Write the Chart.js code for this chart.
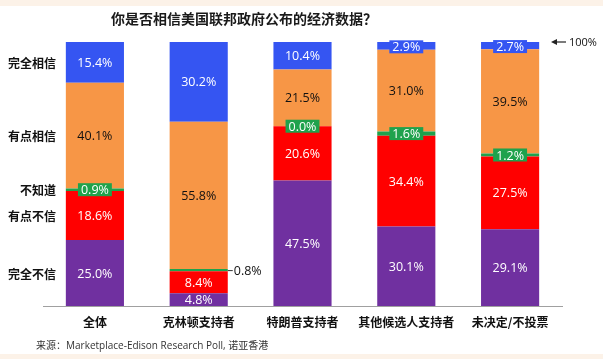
<!DOCTYPE html>
<html>
<head>
<meta charset="utf-8">
<script src="https://cdn.jsdelivr.net/npm/chart.js@4/dist/chart.umd.min.js"></script>
<style>
  html, body { margin:0; padding:0; background:#ffffff; width:603px; height:359px; overflow:hidden; }
  #wrap { position:relative; width:603px; height:359px; }
  .band { position:absolute; left:0; width:603px; background:#fcf2e8; }
  #title { position:absolute; left:0; width:488px; top:8px; text-align:center; font:bold 14px "Noto Sans CJK SC", sans-serif; color:#1a1a1a; }
  #source { position:absolute; left:36px; top:337px; font:10px "Open Sans","Noto Sans CJK SC", sans-serif; color:#333; }
  canvas { position:absolute; left:0; top:0; }
</style>
</head>
<body>
<div id="wrap">
  <div class="band" style="top:0;height:6px"></div>
  <div class="band" style="top:354px;height:5px"></div>
  <canvas id="c" width="603" height="359"></canvas>
  <div id="title">你是否相信美国联邦政府公布的经济数据？</div>
  <div id="source">来源：Marketplace-Edison Research Poll, 诺亚香港</div>
</div>
<script>
const categories = ['全体', '克林顿支持者', '特朗普支持者', '其他候选人支持者', '未决定/不投票'];
const seriesNames = ['完全不信', '有点不信', '不知道', '有点相信', '完全相信'];
const distrustFully    = [25.0, 4.8, 47.5, 30.1, 29.1];
const distrustSomewhat = [18.6, 8.4, 20.6, 34.4, 27.5];
const dontKnow         = [0.9, 0.8, 0.0, 1.6, 1.2];
const trustSomewhat    = [40.1, 55.8, 21.5, 31.0, 39.5];
const trustFully       = [15.4, 30.2, 10.4, 2.9, 2.7];
const topMarkLabel = '100%';

const colors = ['#7030a0', '#ff0000', '#1fa24c', '#f79646', '#3555f2'];
const textColors = ['#ffffff', '#ffffff', '#ffffff', '#111111', '#ffffff'];
const seriesData = [distrustFully, distrustSomewhat, dontKnow, trustSomewhat, trustFully];

const NUMFONT = '12.5px "Open Sans", sans-serif';

const labelPlugin = {
  id: 'segLabels',
  afterDatasetsDraw(chart) {
    const ctx = chart.ctx;
    ctx.save();
    ctx.textBaseline = 'middle';
    chart.data.datasets.forEach((ds, di) => {
      const meta = chart.getDatasetMeta(di);
      meta.data.forEach((bar, i) => {
        const v = ds.data[i];
        const cy = (bar.y + bar.base) / 2;
        const txt = v.toFixed(1) + '%';
        ctx.font = NUMFONT;
        const tw = ctx.measureText(txt).width;
        const small = Math.abs(bar.base - bar.y) < 12;
        if (di === 2 && i === 1) {
          const rx = bar.x + bar.width / 2;
          ctx.strokeStyle = '#333';
          ctx.lineWidth = 1;
          ctx.beginPath();
          ctx.moveTo(rx, cy + 0.5);
          ctx.lineTo(rx + 5, cy + 0.5);
          ctx.stroke();
          ctx.fillStyle = '#111';
          ctx.textAlign = 'left';
          ctx.fillText(txt, rx + 6, cy + 1);
        } else if (small) {
          const bw = tw + 6, bh = 13;
          const off = di === 4 ? 1 : 0;
          ctx.fillStyle = colors[di];
          ctx.fillRect(bar.x - bw / 2, cy - bh / 2 + off, bw, bh);
          ctx.fillStyle = '#ffffff';
          ctx.textAlign = 'center';
          ctx.fillText(txt, bar.x, cy + 1 + off);
        } else {
          ctx.fillStyle = textColors[di];
          ctx.textAlign = 'center';
          ctx.fillText(txt, bar.x, cy + 1);
        }
        if (i === 0) {
          ctx.font = 'bold 12px "Noto Sans CJK SC", sans-serif';
          ctx.fillStyle = '#111';
          ctx.textAlign = 'right';
          ctx.fillText(ds.label, 56, cy + 1);
        }
      });
    });
    const y100 = chart.scales.y.getPixelForValue(100);
    const ax = chart.chartArea.right - 11;
    ctx.strokeStyle = '#222';
    ctx.fillStyle = '#222';
    ctx.lineWidth = 1.2;
    ctx.beginPath();
    ctx.moveTo(ax + 4, y100);
    ctx.lineTo(ax + 15, y100);
    ctx.stroke();
    ctx.beginPath();
    ctx.moveTo(ax, y100);
    ctx.lineTo(ax + 6, y100 - 3);
    ctx.lineTo(ax + 6, y100 + 3);
    ctx.closePath();
    ctx.fill();
    ctx.font = '11px "Open Sans", sans-serif';
    ctx.textAlign = 'left';
    ctx.fillStyle = '#111';
    ctx.fillText(topMarkLabel, ax + 18, y100 + 1);
    ctx.restore();
  }
};

new Chart(document.getElementById('c'), {
  type: 'bar',
  data: {
    labels: categories,
    datasets: seriesData.map((d, k) => ({
      label: seriesNames[k],
      data: d,
      backgroundColor: colors[k],
      borderWidth: 0,
      barPercentage: 0.56,
      categoryPercentage: 1.0
    }))
  },
  options: {
    responsive: false,
    animation: false,
    layout: { padding: { left: 43, right: 41, top: 42, bottom: 23 } },
    plugins: { legend: { display: false }, tooltip: { enabled: false }, title: { display: false } },
    scales: {
      x: {
        stacked: true,
        grid: { display: false, drawTicks: false },
        border: { display: true, color: '#a0a0a0', width: 1 },
        ticks: { color: '#111', padding: 9, font: { family: '"Noto Sans CJK SC", sans-serif', size: 12, weight: 'bold' } },
        afterFit(scale) { scale.height = 30; }
      },
      y: { stacked: true, display: false, min: 0, max: 100 }
    }
  },
  plugins: [labelPlugin]
});
</script>
</body>
</html>
